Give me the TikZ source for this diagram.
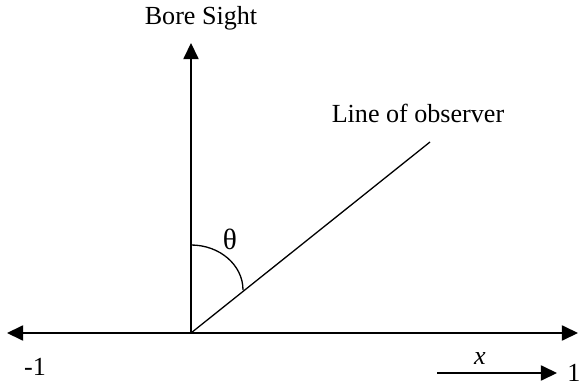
\documentclass[tikz,border=0pt]{standalone}
\usepackage{fontspec}
\setmainfont{Liberation Serif}
\usetikzlibrary{arrows.meta,positioning}

\begin{document}
\begin{tikzpicture}[
    x=0.46pt, y=-0.46pt,
    font=\fontsize{12}{14}\selectfont,
    >={Triangle[length=7.4pt, width=7pt]},
    axis/.style={line width=0.6pt},
    lbl/.style={inner sep=0pt, anchor=base},
]
    \useasboundingbox (0,0) rectangle (579,385);

    % --- Points ---
    \coordinate (origin) at (191,333);
    \coordinate (bore_tip) at (191,43);
    \coordinate (left_tip) at (7,333);
    \coordinate (right_tip) at (578,333);
    \coordinate (obs_end) at (430,142);
    \coordinate (arc_start) at (191,245);
    \coordinate (arc_end) at (243,290);
    \coordinate (x_start) at (437,373);
    \coordinate (x_end) at (557,373);

    % --- Axes ---
    \draw[axis, <->] (left_tip) -- (right_tip);
    \draw[axis, ->] (origin) -- (bore_tip);
    \draw[axis] (origin) -- (obs_end);

    % --- Angle ---
    \draw[axis] (arc_start) .. controls (219.7,245) and (243,265.1) .. (arc_end);

    % --- Labels ---
    \node[lbl] (bore_lbl) at (201,25) {Bore Sight};
    \node[lbl] (obs_lbl) at (418,123) {Line of observer};
    \node[lbl, font=\fontsize{13.5}{15}\selectfont] (theta_lbl) at (230,250) {θ};
    \node[lbl] (minus_one) at (35,375) {-1};
    \node[lbl] (plus_one) at (574,381) {1};

    % --- x direction ---
    \draw[axis, ->] (x_start) -- (x_end);
    \node[lbl] (x_lbl) at (480,364) {\textit{x}};

\end{tikzpicture}
\end{document}
